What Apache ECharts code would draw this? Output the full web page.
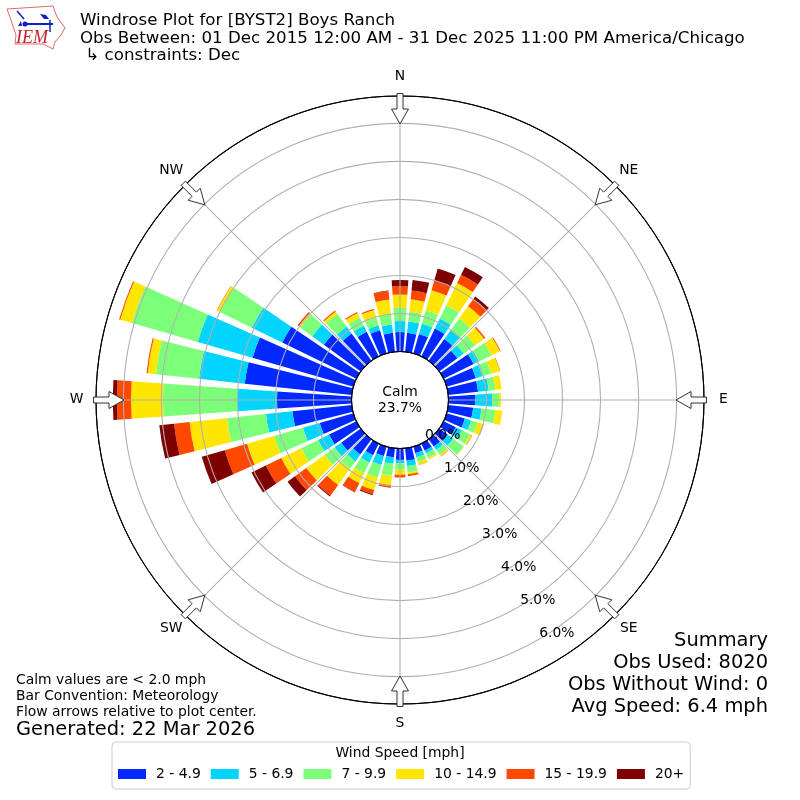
<!DOCTYPE html>
<html><head><meta charset="utf-8">
<style>html,body{margin:0;padding:0;background:#fff}#c{width:800px;height:800px}</style>
<script src="https://cdn.jsdelivr.net/npm/echarts@6/dist/echarts.min.js"></script>
</head><body><div id="c"></div>
<script>
const directions = [0,10,20,30,40,50,60,70,80,90,100,110,120,130,140,150,160,170,180,190,200,210,220,230,240,250,260,270,280,290,300,310,320,330,340,350];
const speedBins = ['2 - 4.9','5 - 6.9','7 - 9.9','10 - 14.9','15 - 19.9','20+'];
const binColors = ['#0028ff','#00d4ff','#7cff79','#ffe600','#ff4800','#7f0000'];
const bin2to5 = [.51,.50,.53,.82,.71,.59,.88,.80,.79,.70,.66,.50,.36,.28,.24,.21,.18,.33,.30,.24,.26,.34,.50,.64,.80,.92,1.57,1.96,2.83,2.76,2.17,1.20,.89,.72,.63,.50];
const bin5to7 = [.29,.30,.28,.29,.28,.21,.16,.18,.28,.45,.22,.17,.18,.18,.11,.08,.11,.14,.09,.17,.24,.22,.22,.21,.32,.46,.70,1.05,1.21,1.50,.89,.38,.22,.18,.14,.22];
const bin7to10 = [.35,.26,.37,.39,.38,.37,.36,.24,.18,.18,.37,.18,.24,.34,.16,.13,.13,.17,.17,.32,.35,.31,.24,.33,.50,.79,1.03,1.95,1.14,1.80,.93,.39,.42,.24,.21,.29];
const bin10to15 = [.35,.33,.55,.65,.40,.29,.25,.24,.16,.05,.18,.16,.05,.01,.04,.04,.08,.05,.13,.25,.34,.29,.53,.59,.58,.74,.99,.84,.22,.32,.09,.05,.07,.13,.21,.37];
const bin15to20 = [.22,.23,.26,.24,.24,.04,.02,.01,0,0,0,.01,.01,0,.01,0,.01,.05,.07,.07,.11,.26,.34,.37,.45,.61,.41,.37,.03,.03,.01,.04,.03,.03,.03,.23];
const bin20plus = [.16,.28,.33,.23,.08,0,0,0,0,0,0,0,0,0,0,0,0,0,0,0,.03,.01,.03,.24,.42,.63,.39,.11,0,0,0,0,0,0,0,.01];
const binValues = [bin2to5,bin5to7,bin7to10,bin10to15,bin15to20,bin20plus];
const compass = {0:'N',45:'NE',90:'E',135:'SE',180:'S',225:'SW',270:'W',315:'NW'};
const arrowBearings = [0,45,90,135,180,225,270,315];
const titleLines = ['Windrose Plot for [BYST2] Boys Ranch','Obs Between: 01 Dec 2015 12:00 AM - 31 Dec 2025 11:00 PM America/Chicago',' ↳ constraints: Dec'];
const summaryLines = ['Summary','Obs Used: 8020','Obs Without Wind: 0','Avg Speed: 6.4 mph'];
const noteLines = ['Calm values are < 2.0 mph','Bar Convention: Meteorology','Flow arrows relative to plot center.'];
const generated = 'Generated: 22 Mar 2026';
const calmText = 'Calm\n23.7%';
const legendTitle = 'Wind Speed [mph]';

const FONT = '"DejaVu Sans"';
const chart = echarts.init(document.getElementById('c'), null, {renderer:'canvas'});
const gray = '#b0b0b0';

function txt(x,y,s,size,align){
  return {type:'text',x:x,y:y,z:100,style:{text:s,font:size+'px '+FONT,fill:'#000',textAlign:align||'left',textVerticalAlign:'middle'}};
}
const logo = {type:'group',z:100,children:[
  {type:'polygon',shape:{points:[[7,9],[53,6],[57,17],[65,28],[61,35],[55,42],[53,49],[43,44],[15,44],[16,35],[12,23]]},style:{fill:'#fff',stroke:'#e26a6a',lineWidth:1}},
  {type:'line',shape:{x1:25,y1:24,x2:53,y2:24},style:{stroke:'#1020c0',lineWidth:2}},
  {type:'line',shape:{x1:50,y1:20,x2:50,y2:32},style:{stroke:'#1020c0',lineWidth:1.5}},
  {type:'line',shape:{x1:17,y1:11,x2:24,y2:19},style:{stroke:'#1020c0',lineWidth:1.5}},
  {type:'polygon',shape:{points:[[40,14],[46,15],[49,19],[44,19]]},style:{fill:'#1020c0'}},
  {type:'circle',shape:{cx:25,cy:24,r:2.5},style:{fill:'#1020c0'}},
  {type:'polygon',shape:{points:[[18,26],[21,21],[22,26]]},style:{fill:'#1020c0'}},
  {type:'text',x:16,y:38,style:{text:'IEM',font:'italic 18px "Liberation Serif"',fill:'#c8202a',textVerticalAlign:'middle'}}
]};
const graphics = [logo];
titleLines.forEach((s,i)=>graphics.push(txt(80,21+i*17.5,s,16.67)));
summaryLines.forEach((s,i)=>graphics.push(txt(768,640.5+i*22,s,19.44,'right')));
noteLines.forEach((s,i)=>graphics.push(txt(16,680+i*16.2,s,13.89)));
graphics.push(txt(16,729.5,generated,19.44));
graphics.push(txt(400,400,calmText,13.89,'center'));
graphics[graphics.length-1].style.lineHeight=16;
graphics.push(txt(400,753,legendTitle,13.89,'center'));

const barSeries = speedBins.map((name,i)=>({
  name:name,type:'bar',coordinateSystem:'polar',polarIndex:0,stack:'wind',
  barWidth:8,z:2,silent:true,
  itemStyle:{color:binColors[i]},
  data:directions.map((d,j)=>[binValues[i][j],d])
}));
const arrowSeries = {
  type:'custom',coordinateSystem:'polar',polarIndex:0,z:5,silent:true,clip:false,
  data:arrowBearings.map(b=>[6.72,b]),
  renderItem:function(params,api){
    const p = api.coord([api.value(0),api.value(1)]);
    const bearing = api.value(1);
    const a = bearing*Math.PI/180;
    const ux=-Math.sin(a), uy=Math.cos(a), vx=Math.cos(a), vy=Math.sin(a);
    const shape=[[-2.5,-3],[-2.5,3],[13,3],[13,8.5],[28,0],[13,-8.5],[13,-3]];
    const pts=shape.map(q=>[p[0]+ux*q[0]+vx*q[1],p[1]+uy*q[0]+vy*q[1]]);
    return {type:'group',children:[
      {type:'polygon',shape:{points:pts},style:{fill:'#fff',stroke:'#333',lineWidth:1}},
      {type:'text',x:p[0]-ux*19.5,y:p[1]-uy*19.5-0.5,style:{text:compass[bearing],font:'13.89px '+FONT,fill:'#000',textAlign:'center',textVerticalAlign:'middle'}}
    ]};
  }
};
chart.setOption({
  animation:false,
  textStyle:{fontFamily:FONT},
  legend:{
    left:112,top:742,padding:[25,6,8,6],itemGap:10,itemWidth:28,itemHeight:10,icon:'rect',
    borderColor:'#ccc',borderWidth:1,borderRadius:4,backgroundColor:'#fff',
    data:speedBins,selectedMode:false,
    textStyle:{fontFamily:FONT,fontSize:13.89,color:'#000',padding:[0,0,0,5]}
  },
  polar:[
    {center:[400,400],radius:[48.5,304]},
    {center:[400,403],radius:[48.5,304]}
  ],
  angleAxis:[
    {polarIndex:0,type:'value',min:0,max:360,interval:45,startAngle:90,clockwise:true,z:3,
     axisLine:{show:true,lineStyle:{color:'#000',width:1}},axisTick:{show:false},
     splitLine:{show:true,lineStyle:{color:gray,width:1.1}},
     axisLabel:{show:false}},
    {polarIndex:1,type:'value',min:0,max:360,startAngle:-60,clockwise:true,show:false}
  ],
  radiusAxis:[
    {polarIndex:0,type:'value',min:0,max:6.72,interval:1,z:3,
     axisLine:{show:false},axisTick:{show:false},axisLabel:{show:false},
     splitLine:{show:true,lineStyle:{color:['#000',gray,gray,gray,gray,gray,gray,'#000'],width:1.1}}},
    {polarIndex:1,type:'value',min:0,max:6.72,interval:1,z:6,
     axisLine:{show:false},axisTick:{show:false},splitLine:{show:false},
     axisLabel:{show:true,margin:19,fontFamily:FONT,fontSize:13.89,color:'#000',align:'center',verticalAlign:'middle',padding:[0,0,0,4],
       formatter:v=>Number.isInteger(v)?v.toFixed(1)+'%':''}}
  ],
  series:barSeries.concat([arrowSeries]),
  graphic:graphics
});
</script></body></html>
